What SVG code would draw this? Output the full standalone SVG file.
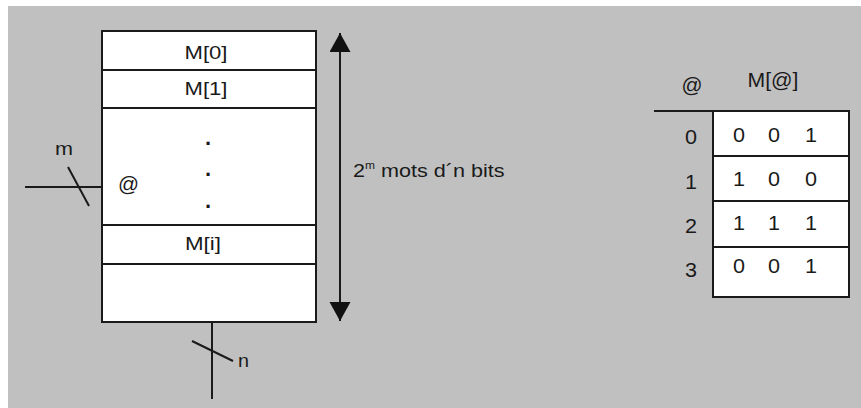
<svg xmlns="http://www.w3.org/2000/svg" width="861" height="408" viewBox="0 0 861 408">
  <defs>
    <marker id="tri" markerUnits="userSpaceOnUse" markerWidth="20" markerHeight="22" refX="19" refY="10.5" orient="auto-start-reverse" viewBox="0 0 20 22">
      <path d="M0,0 L19,10.5 L0,21 Z" fill="#111"/>
    </marker>
    <style>
      .bg { fill: #c0c0c0; }
      .cell { fill: #ffffff; stroke: #1a1a1a; stroke-width: 2; }
      .ln { stroke: #1a1a1a; stroke-width: 2; fill: none; }
      .t { font-family: "Liberation Sans", Arial, sans-serif; fill: #1a1a1a; }
      .lbl { font-size: 18px; text-anchor: middle; }
      .num { font-size: 20px; text-anchor: middle; }
      .dot { font-size: 22px; font-weight: bold; text-anchor: middle; }
    </style>
  </defs>

  <rect x="0" y="0" width="861" height="408" fill="#ffffff"/>
  <rect class="bg" x="8" y="6" width="853" height="402"/>

  <g id="memory">
    <rect class="cell" x="102" y="31" width="214" height="291"/>
    <line class="ln" x1="102" y1="70" x2="316" y2="70"/>
    <line class="ln" x1="102" y1="108" x2="316" y2="108"/>
    <line class="ln" x1="102" y1="225" x2="316" y2="225"/>
    <line class="ln" x1="102" y1="264" x2="316" y2="264"/>
    <text class="t lbl" x="206" y="59" textLength="43" lengthAdjust="spacingAndGlyphs">M[0]</text>
    <text class="t lbl" x="206" y="95" textLength="43" lengthAdjust="spacingAndGlyphs">M[1]</text>
    <text class="t dot" x="208" y="145">.</text>
    <text class="t dot" x="208" y="176">.</text>
    <text class="t dot" x="208" y="208">.</text>
    <text class="t lbl" x="203" y="250" textLength="36" lengthAdjust="spacingAndGlyphs">M[i]</text>
    <text class="t" x="118" y="191" font-size="20" textLength="21" lengthAdjust="spacingAndGlyphs">@</text>
  </g>

  <g id="size-arrow">
    <line class="ln" x1="340" y1="33" x2="340" y2="321" marker-start="url(#tri)" marker-end="url(#tri)"/>
    <text class="t" font-size="18" transform="translate(353,177) scale(1.2,1)">2<tspan font-size="10" dy="-8">m</tspan><tspan dy="8"> mots d´n bits</tspan></text>
  </g>

  <g id="connectors">
    <line class="ln" x1="25" y1="187" x2="102" y2="187"/>
    <line class="ln" x1="68" y1="167" x2="89" y2="206"/>
    <text class="t" x="55" y="155" font-size="18" textLength="18" lengthAdjust="spacingAndGlyphs">m</text>
    <line class="ln" x1="212" y1="322" x2="212" y2="399"/>
    <line class="ln" x1="192" y1="341" x2="233" y2="361"/>
    <text class="t" x="238" y="367" font-size="18" textLength="11" lengthAdjust="spacingAndGlyphs">n</text>
  </g>

  <g id="truth-table">
    <text class="t num" x="692" y="92" textLength="21" lengthAdjust="spacingAndGlyphs">@</text>
    <text class="t num" x="773" y="87" textLength="51" lengthAdjust="spacingAndGlyphs">M[@]</text>
    <line class="ln" x1="654" y1="111" x2="713" y2="111"/>
    <rect class="cell" x="713" y="111" width="136" height="186"/>
    <line class="ln" x1="713" y1="156" x2="849" y2="156"/>
    <line class="ln" x1="713" y1="201" x2="849" y2="201"/>
    <line class="ln" x1="713" y1="247" x2="849" y2="247"/>

    <text class="t num" x="691" y="144" textLength="12" lengthAdjust="spacingAndGlyphs">0</text>
    <text class="t num" x="691" y="189" textLength="12" lengthAdjust="spacingAndGlyphs">1</text>
    <text class="t num" x="691" y="233" textLength="12" lengthAdjust="spacingAndGlyphs">2</text>
    <text class="t num" x="691" y="277" textLength="12" lengthAdjust="spacingAndGlyphs">3</text>

    <text class="t num" x="739" y="142" textLength="12" lengthAdjust="spacingAndGlyphs">0</text>
    <text class="t num" x="774" y="142" textLength="12" lengthAdjust="spacingAndGlyphs">0</text>
    <text class="t num" x="811" y="142" textLength="12" lengthAdjust="spacingAndGlyphs">1</text>

    <text class="t num" x="739" y="186" textLength="12" lengthAdjust="spacingAndGlyphs">1</text>
    <text class="t num" x="774" y="186" textLength="12" lengthAdjust="spacingAndGlyphs">0</text>
    <text class="t num" x="811" y="186" textLength="12" lengthAdjust="spacingAndGlyphs">0</text>

    <text class="t num" x="739" y="230" textLength="12" lengthAdjust="spacingAndGlyphs">1</text>
    <text class="t num" x="774" y="230" textLength="12" lengthAdjust="spacingAndGlyphs">1</text>
    <text class="t num" x="811" y="230" textLength="12" lengthAdjust="spacingAndGlyphs">1</text>

    <text class="t num" x="739" y="273" textLength="12" lengthAdjust="spacingAndGlyphs">0</text>
    <text class="t num" x="774" y="273" textLength="12" lengthAdjust="spacingAndGlyphs">0</text>
    <text class="t num" x="811" y="273" textLength="12" lengthAdjust="spacingAndGlyphs">1</text>
  </g>
</svg>
